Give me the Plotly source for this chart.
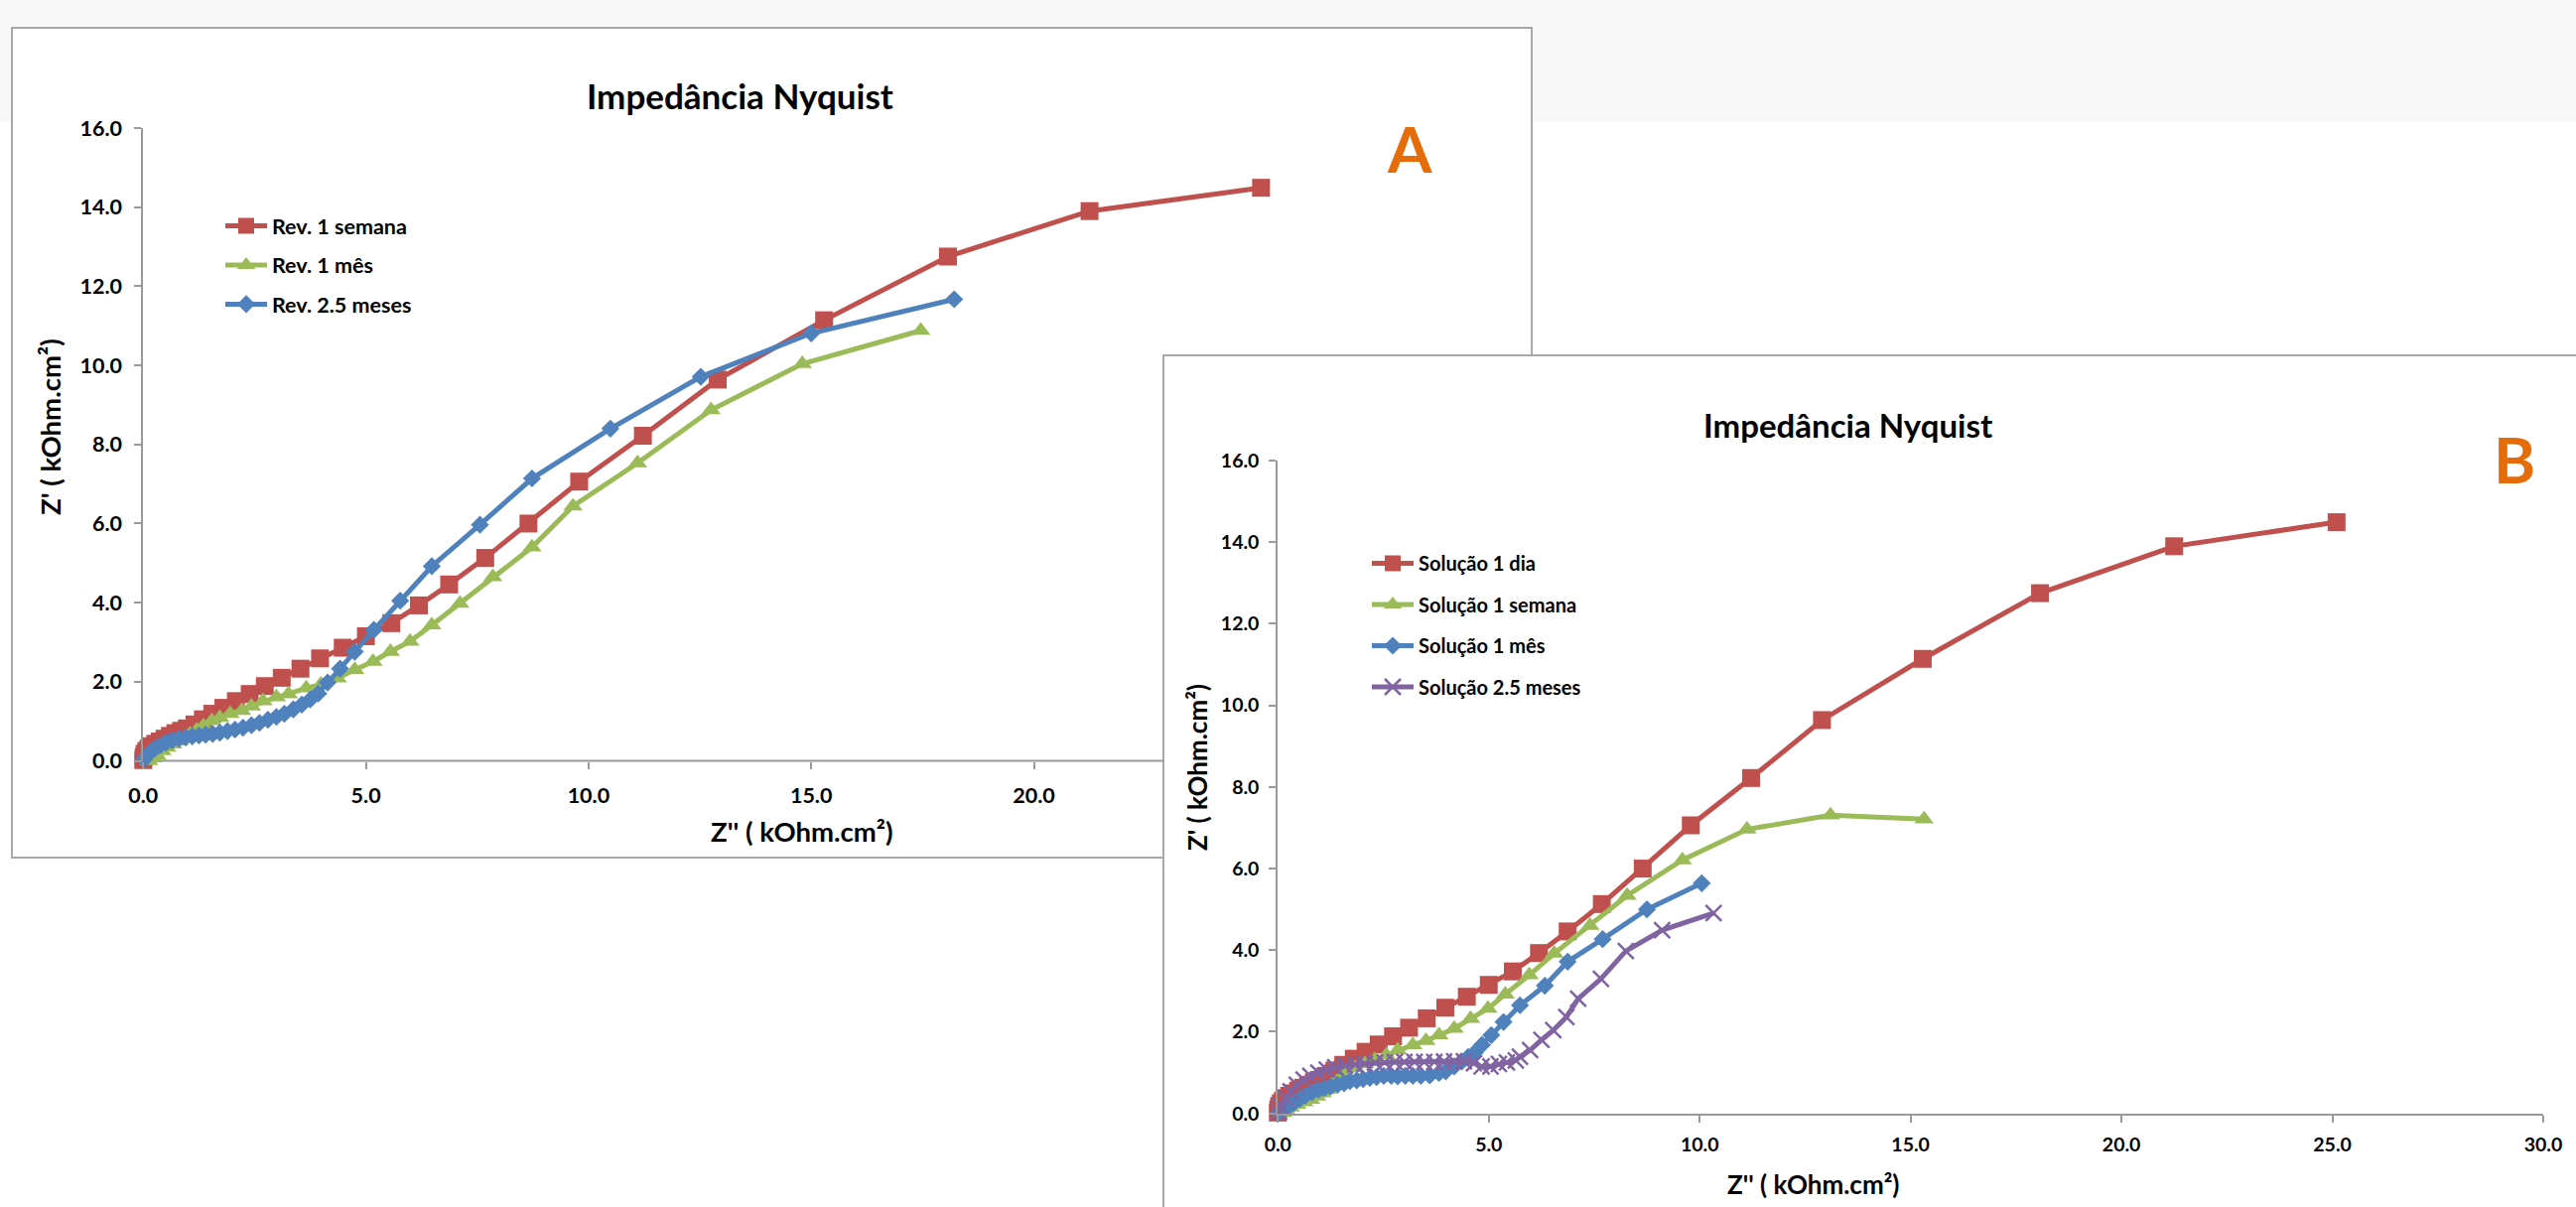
import plotly.graph_objects as go

W, H = 2595, 1216

# ---------------- data ----------------
# Red series (identical in both panels: "Rev. 1 semana" / "Solução 1 dia")
red_x = [0.00, 0.01, 0.03, 0.07, 0.12, 0.19, 0.27, 0.37, 0.48, 0.60, 0.72, 0.85, 0.98,
         1.15, 1.34, 1.55, 1.80, 2.08, 2.39, 2.73, 3.11, 3.53, 3.97, 4.48, 5.00, 5.57,
         6.19, 6.87, 7.68, 8.65, 9.79, 11.22, 12.90, 15.29, 18.07, 21.25, 25.10]
red_y = [0.02, 0.10, 0.18, 0.25, 0.31, 0.37, 0.43, 0.49, 0.56, 0.63, 0.70, 0.76, 0.82,
         0.92, 1.05, 1.19, 1.34, 1.51, 1.69, 1.89, 2.10, 2.33, 2.59, 2.86, 3.15, 3.48,
         3.93, 4.46, 5.13, 6.00, 7.06, 8.22, 9.64, 11.14, 12.75, 13.90, 14.49]

# Panel A: "Rev. 1 mês"
grnA_x = [0.12, 0.22, 0.31, 0.42, 0.53, 0.66, 0.80, 0.93, 1.05, 1.20, 1.35, 1.54, 1.72,
          1.95, 2.21, 2.43, 2.69, 2.99, 3.26, 3.66, 3.99, 4.36, 4.75, 5.16, 5.55, 5.99,
          6.48, 7.11, 7.85, 8.73, 9.65, 11.10, 12.75, 14.80, 17.46]
grnA_y = [0.00, 0.07, 0.13, 0.25, 0.34, 0.42, 0.50, 0.57, 0.67, 0.77, 0.88, 1.01, 1.09,
          1.19, 1.27, 1.38, 1.51, 1.61, 1.69, 1.84, 1.93, 2.09, 2.30, 2.51, 2.76, 3.02,
          3.43, 3.98, 4.65, 5.40, 6.44, 7.53, 8.87, 10.04, 10.88]

# Panel A: "Rev. 2.5 meses"
bluA_x = [0.02, 0.07, 0.15, 0.26, 0.38, 0.51, 0.65, 0.80, 0.95, 1.10, 1.25, 1.40, 1.56,
          1.72, 1.89, 2.06, 2.24, 2.43, 2.61, 2.80, 2.99, 3.17, 3.37, 3.56, 3.75, 3.93,
          4.14, 4.42, 4.75, 5.18, 5.77, 6.48, 7.56, 8.73, 10.49, 12.52, 15.00, 18.21]
bluA_y = [0.04, 0.13, 0.22, 0.31, 0.39, 0.46, 0.52, 0.56, 0.59, 0.62, 0.64, 0.66, 0.68,
          0.71, 0.75, 0.79, 0.84, 0.90, 0.96, 1.04, 1.11, 1.19, 1.30, 1.42, 1.55, 1.70,
          1.98, 2.33, 2.76, 3.31, 4.05, 4.92, 5.97, 7.14, 8.40, 9.71, 10.81, 11.67]

# Panel B: "Solução 1 semana"
grnB_x = [0.12, 0.20, 0.30, 0.45, 0.62, 0.78, 0.92, 1.05, 1.16, 1.28, 1.42, 1.59, 1.83,
          2.06, 2.30, 2.57, 2.84, 3.20, 3.51, 3.82, 4.18, 4.57, 4.98, 5.39, 5.96, 6.55,
          7.40, 8.28, 9.59, 11.12, 13.10, 15.32]
grnB_y = [0.02, 0.08, 0.15, 0.22, 0.28, 0.34, 0.42, 0.50, 0.58, 0.69, 0.80, 0.95, 1.11,
          1.21, 1.31, 1.43, 1.55, 1.68, 1.78, 1.92, 2.08, 2.32, 2.57, 2.92, 3.39, 3.92,
          4.60, 5.34, 6.21, 6.96, 7.31, 7.21]

# Panel B: "Solução 1 mês"
bluB_x = [0.03, 0.08, 0.16, 0.26, 0.38, 0.52, 0.65, 0.81, 0.96, 1.10, 1.25, 1.41, 1.57,
          1.71, 1.87, 2.02, 2.18, 2.34, 2.51, 2.69, 2.84, 3.02, 3.20, 3.39, 3.60, 3.82,
          3.98, 4.18, 4.36, 4.51, 4.67, 4.84, 5.06, 5.35, 5.74, 6.33, 6.87, 7.70, 8.75,
          10.05]
bluB_y = [0.02, 0.08, 0.13, 0.18, 0.26, 0.36, 0.44, 0.52, 0.58, 0.62, 0.66, 0.70, 0.74,
          0.79, 0.81, 0.84, 0.87, 0.89, 0.92, 0.92, 0.91, 0.92, 0.92, 0.92, 0.93, 0.99,
          1.03, 1.15, 1.27, 1.38, 1.49, 1.68, 1.92, 2.24, 2.65, 3.13, 3.72, 4.27, 5.00,
          5.64]

# Panel B: "Solução 2.5 meses"
purB_x = [0.02, 0.06, 0.18, 0.30, 0.45, 0.61, 0.77, 0.96, 1.16, 1.36, 1.59, 1.83, 2.06,
          2.30, 2.53, 2.77, 3.00, 3.24, 3.47, 3.71, 3.94, 4.18, 4.41, 4.65, 4.83, 5.04,
          5.24, 5.43, 5.64, 5.74, 5.98, 6.25, 6.53, 6.84, 7.12, 7.66, 8.25, 9.11, 10.33]
purB_y = [0.03, 0.18, 0.38, 0.54, 0.70, 0.83, 0.92, 1.00, 1.07, 1.13, 1.17, 1.20, 1.22,
          1.24, 1.25, 1.26, 1.26, 1.26, 1.26, 1.26, 1.27, 1.28, 1.28, 1.23, 1.15, 1.15,
          1.21, 1.25, 1.30, 1.39, 1.55, 1.80, 2.04, 2.36, 2.81, 3.30, 3.98, 4.49, 4.91]

names_A = ["Rev. 1 semana", "Rev. 1 mês", "Rev. 2.5 meses"]
names_B = ["Solução 1 dia", "Solução 1 semana", "Solução 1 mês", "Solução 2.5 meses"]
x_ticks_A = [0, 5, 10, 15, 20]
x_ticks_B = [0, 5, 10, 15, 20, 25, 30]
y_ticks = [0, 2, 4, 6, 8, 10, 12, 14, 16]
title_text = "Impedância Nyquist"
x_title = "Z'' ( kOhm.cm²)"
y_title = "Z' ( kOhm.cm²)"

# ---------------- styling ----------------
RED, GREEN, BLUE, PURPLE = "#C0504D", "#9BBB59", "#4F81BD", "#8064A2"
ORANGE = "#E46C0A"
AXIS = "#9a9a9a"
FRAME = "#a8a8a8"
FONT = "Lato"


def px(x):
    return x / W


def py(y):
    return 1 - y / H


fig = go.Figure()

marker_defs = [
    (RED, "square", 18, 0),
    (GREEN, "triangle-up", 17, 0),
    (BLUE, "diamond", 14, 0),
    (PURPLE, "x-thin", 16, 2.5),
]


def add_series(xs, ys, name, style, xa, ya, leg, grp):
    col, sym, size, lw = style
    mk = dict(symbol=sym, size=size, color=col)
    if lw:
        mk["line"] = dict(color=col, width=lw)
    fig.add_trace(go.Scatter(
        x=xs, y=ys, mode="lines+markers", name=name,
        line=dict(color=col, width=5), marker=mk,
        xaxis=xa, yaxis=ya, legend=leg, legendgroup=grp,
        cliponaxis=False, hoverinfo="skip"))


add_series(red_x, red_y, names_A[0], marker_defs[0], "x", "y", "legend", "a0")
add_series(grnA_x, grnA_y, names_A[1], marker_defs[1], "x", "y", "legend", "a1")
add_series(bluA_x, bluA_y, names_A[2], marker_defs[2], "x", "y", "legend", "a2")

add_series(red_x, red_y, names_B[0], marker_defs[0], "x2", "y2", "legend2", "b0")
add_series(grnB_x, grnB_y, names_B[1], marker_defs[1], "x2", "y2", "legend2", "b1")
add_series(bluB_x, bluB_y, names_B[2], marker_defs[2], "x2", "y2", "legend2", "b2")
add_series(purB_x, purB_y, names_B[3], marker_defs[3], "x2", "y2", "legend2", "b3")

tickfont_A = dict(family=FONT, size=21.5, color="black", weight="bold")
tickfont_B = dict(family=FONT, size=19.5, color="black", weight="bold")

common = dict(showgrid=False, zeroline=False, ticks="outside", ticklen=7,
              tickwidth=2, tickcolor=AXIS, linecolor=AXIS, linewidth=2,
              fixedrange=True, automargin=False)

# Panel A geometry (pixels)
A_x0, A_x30 = 144.3, 144.3 + 30 * 44.86
A_y0, A_y16 = 766.5, 129.0
# Panel B geometry (pixels)
B_x0, B_x30 = 1287.3, 2562.0
B_y0, B_y16 = 1121.7, 464.0

fig.update_layout(
    width=W, height=H, autosize=False,
    margin=dict(l=0, r=0, t=0, b=0, pad=0, autoexpand=False),
    paper_bgcolor="white", plot_bgcolor="rgba(0,0,0,0)",
    showlegend=True,
    xaxis=dict(domain=[px(A_x0), px(A_x30)], range=[0, 30], anchor="y",
               showline=False, tickvals=x_ticks_A,
               ticktext=[f"{v:.1f}" for v in x_ticks_A], ticklabelstandoff=9,
               tickfont=tickfont_A, **common),
    yaxis=dict(domain=[py(A_y0), py(A_y16)], range=[0, 16], anchor="x",
               showline=True, tickvals=y_ticks,
               ticktext=[f"{v:.1f}" for v in y_ticks], ticklabelstandoff=8,
               tickfont=tickfont_A, **common),
    xaxis2=dict(domain=[px(B_x0), px(B_x30)], range=[0, 30], anchor="y2",
                showline=True, tickvals=x_ticks_B,
                ticktext=[f"{v:.1f}" for v in x_ticks_B], ticklabelstandoff=6,
                tickfont=tickfont_B, **common),
    yaxis2=dict(domain=[py(B_y0), py(B_y16)], range=[0, 16], anchor="x2",
                showline=True, tickvals=y_ticks,
                ticktext=[f"{v:.1f}" for v in y_ticks], ticklabelstandoff=6,
                tickfont=tickfont_B, **common),
    legend=dict(x=px(222), y=py(207), xanchor="left", yanchor="top",
                bgcolor="rgba(0,0,0,0)", borderwidth=0, traceorder="grouped",
                tracegroupgap=8.5, itemwidth=42,
                font=dict(family=FONT, size=21.5, color="black", weight="bold")),
    legend2=dict(x=px(1377), y=py(548), xanchor="left", yanchor="top",
                 bgcolor="rgba(0,0,0,0)", borderwidth=0, traceorder="grouped",
                 tracegroupgap=12.5, itemwidth=42,
                 font=dict(family=FONT, size=20, color="black", weight="bold")),
)

shapes = [
    # light grey band at the top of the page
    dict(type="rect", xref="paper", yref="paper", x0=0, x1=1, y0=py(123), y1=1,
         fillcolor="#f8f8f8", line=dict(width=0), layer="below"),
    # chart A frame
    dict(type="rect", xref="paper", yref="paper", x0=px(12), x1=px(1543),
         y0=py(864), y1=py(28), fillcolor="white",
         line=dict(color=FRAME, width=2), layer="below"),
    # chart B frame (runs off the page on the right and bottom)
    dict(type="rect", xref="paper", yref="paper", x0=px(1172), x1=px(W + 20),
         y0=py(H + 20), y1=py(358), fillcolor="white",
         line=dict(color=FRAME, width=2), layer="below"),
    # chart A horizontal axis line, hidden under chart B beyond its left edge
    dict(type="line", xref="paper", yref="paper", x0=px(A_x0 - 1), x1=px(1172),
         y0=py(A_y0), y1=py(A_y0), line=dict(color=AXIS, width=2), layer="below"),
]

ann = []


def add_text(text, x, y, size, color="black", angle=0):
    ann.append(dict(text=f"<b>{text}</b>", x=px(x), y=py(y), xref="paper", yref="paper",
                    showarrow=False, xanchor="center", yanchor="middle", textangle=angle,
                    font=dict(family=FONT, size=size, color=color)))


add_text(title_text, 745, 96, 35)
add_text(title_text, 1862, 428, 33)
add_text(x_title, 808, 837, 27.5)
add_text(x_title, 1827, 1193, 26)
add_text(y_title, 50, 430, 27.5, angle=-90)
add_text(y_title, 1206, 773, 26, angle=-90)
add_text("A", 1420, 150, 64, color=ORANGE)
add_text("B", 2533, 463, 64, color=ORANGE)

fig.update_layout(shapes=shapes, annotations=ann)

fig.write_html(
    "out.html",
    config={"displayModeBar": False},
    post_script="document.body.style.margin='0';document.body.style.overflow='hidden';",
)
